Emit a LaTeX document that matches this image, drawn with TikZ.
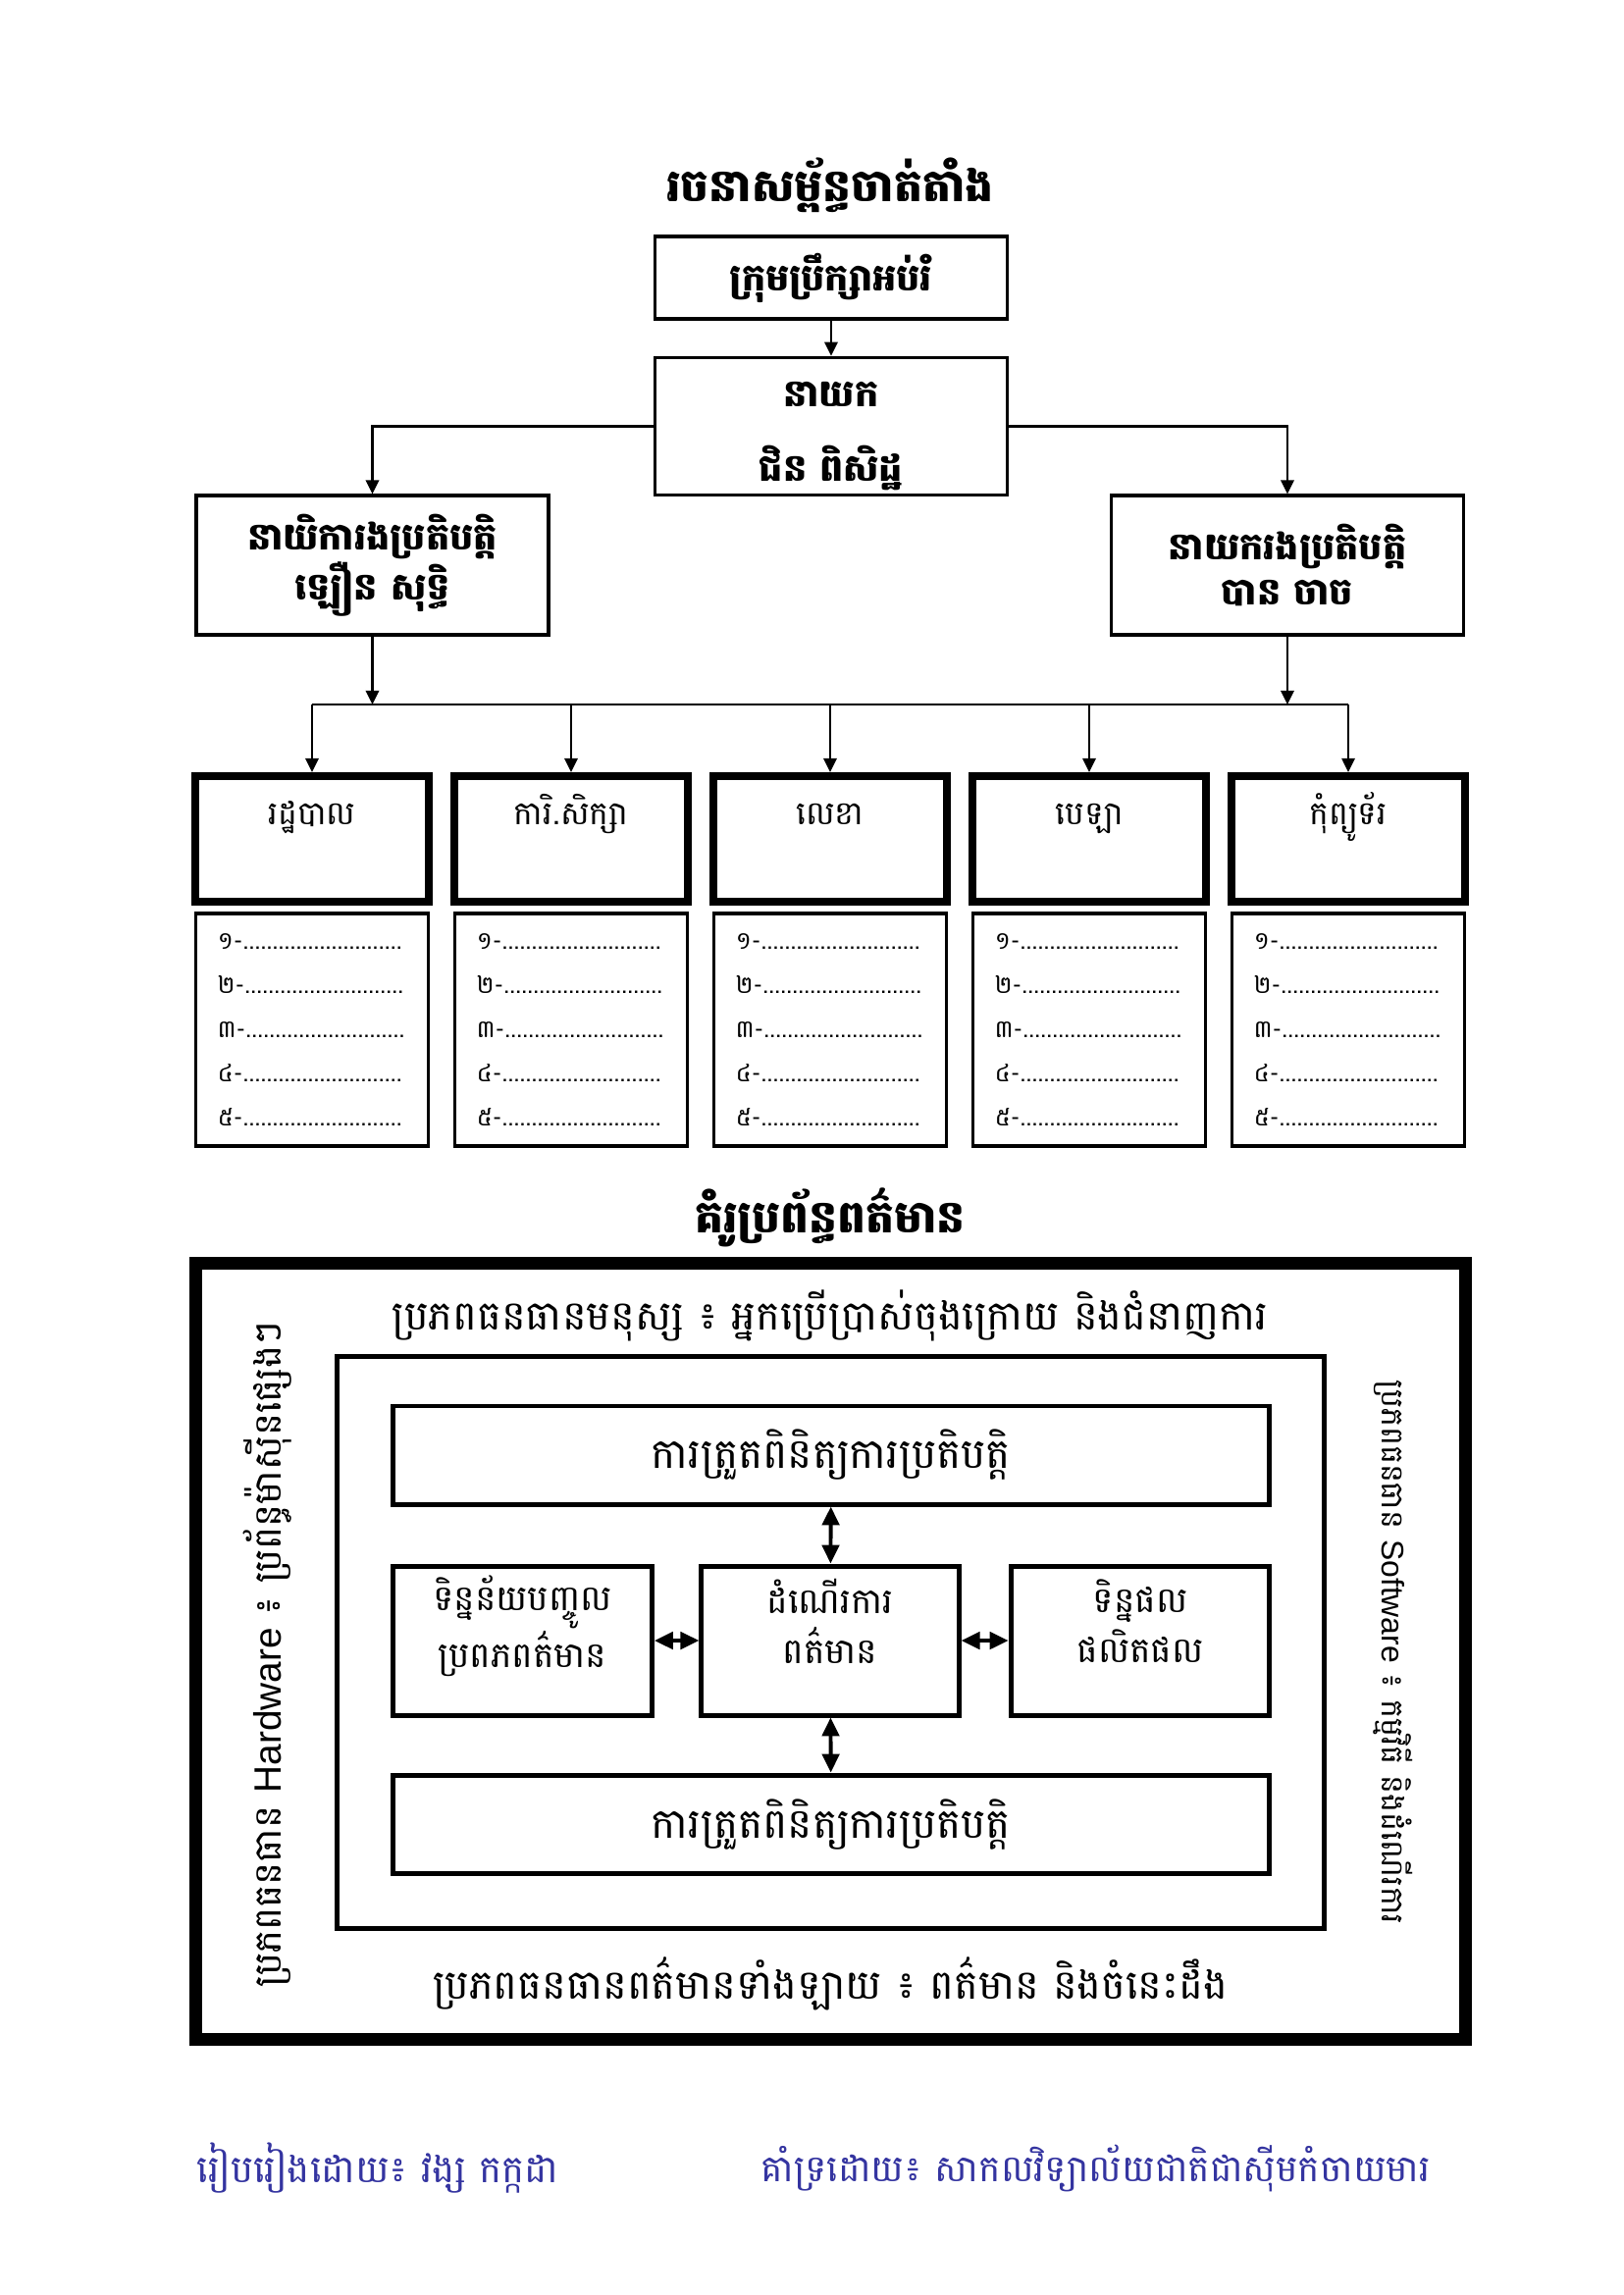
\documentclass[tikz,border=0pt]{standalone}
\usepackage{fontspec}
\usetikzlibrary{arrows.meta}
\newfontfamily\khmer[Script=Khmer]{Battambang}
\newfontfamily\latin{Liberation Sans}
\definecolor{footblue}{RGB}{52,52,160}
\newcommand{\dotrow}{...........................}
\begin{document}
\begin{tikzpicture}[x=0.126965mm,y=-0.126965mm,
  heading/.style={font=\khmer\bfseries\fontsize{16.5}{19}\selectfont},
  orgbox/.style={draw, line width=1.2pt, minimum width=45.6mm, align=center, font=\khmer\bfseries\fontsize{13.8}{16.6}\selectfont},
  unitbox/.style={draw, line width=2.8pt, minimum width=30.3mm, minimum height=16.3mm, text height=3mm, text depth=6.6mm, font=\khmer\fontsize{12}{14}\selectfont},
  listbox/.style={draw, line width=1.4pt, minimum width=30.1mm, minimum height=30.1mm, text width=24.5mm, align=left, font=\khmer\fontsize{9}{16.2}\selectfont},
  sysbox/.style={draw, line width=1.8pt, align=center, font=\khmer\fontsize{13}{18.4}\selectfont},
  link/.style={line width=0.8pt, -{Triangle[length=1.8mm,width=1.7mm]}},
  both/.style={line width=1.4pt, {Triangle[length=2.4mm,width=2.2mm]}-{Triangle[length=2.4mm,width=2.2mm]}},
  side/.style={font=\khmer\fontsize{15}{18}\selectfont},
  foot/.style={font=\khmer\fontsize{14}{16}\selectfont, text=footblue, inner xsep=0pt}]
\useasboundingbox (0,0) rectangle (1654,2339);

\node[heading] (title) at (846,189) {រចនាសម្ព័ន្ធចាត់តាំង};
\node[orgbox, minimum height=10.7mm] (council) at (847,283) {ក្រុមប្រឹក្សាអប់រំ};
\node[orgbox, minimum height=17.8mm, inner ysep=0pt, text height=15.5mm, font=\khmer\bfseries\fontsize{13.8}{27.7}\selectfont] (director) at (847,434.5) {នាយក\\ជិន ពិសិដ្ឋ};
\node[orgbox, minimum height=18mm] (deputyL) at (379.5,576) {នាយិការងប្រតិបត្តិ\\ឡឿន សុទ្ធិ};
\node[orgbox, minimum height=18mm] (deputyR) at (1312,576) {នាយករងប្រតិបត្តិ\\បាន ចាច};
\coordinate (bus) at (846,718);

\draw[link] (council) -- (director);
\draw[link] (director.west) -| (deputyL.north);
\draw[link] (director.east) -| (deputyR.north);
\draw[link] (deputyL.south) -- (deputyL.south |- bus);
\draw[link] (deputyR.south) -- (deputyR.south |- bus);

\foreach \n/\x/\t in {1/318/រដ្ឋបាល, 2/582/ការិ.សិក្សា, 3/846/លេខា, 4/1110/បេឡា, 5/1374/កុំព្យូទ័រ} {
  \node[unitbox] (unit\n) at (\x,855) {\t};
  \node[listbox] (list\n) at (\x,1049.5) {១-\dotrow\\២-\dotrow\\៣-\dotrow\\៤-\dotrow\\៥-\dotrow};
  \draw[link] (unit\n.north |- bus) -- (unit\n);
}
\draw[line width=0.8pt] (unit1.north |- bus) -- (unit5.north |- bus);

\node[heading] (systitle) at (846,1241) {គំរូប្រព័ន្ធពត៌មាន};
\node[draw, line width=4.7pt, minimum width=164.3mm, minimum height=100.4mm] (outer) at (846.5,1683) {};
\node[draw, line width=1.8pt, minimum width=127.7mm, minimum height=74mm] (inner) at (846.5,1674) {};

\node[side] (human) at (846,1341) {ប្រភពធនធានមនុស្ស ៖ អ្នកប្រើប្រាស់ចុងក្រោយ និងជំនាញការ};
\node[side] (info) at (846,2022) {ប្រភពធនធានពត៌មានទាំងឡាយ ៖ ពត៌មាន និងចំនេះដឹង};
\node[side, font=\khmer\fontsize{14}{16}\selectfont, rotate=90] (hardware) at (273,1686) {ប្រភពធនធាន {\latin Hardware} ៖ ប្រព័ន្ធម៉ាស៊ីនផ្សេងៗ};
\node[side, font=\khmer\fontsize{11.5}{14}\selectfont, rotate=-90] (software) at (1420,1684) {ប្រភពធនធាន {\latin Software} ៖ កម្មវិធី និងដំណើរការ};

\node[sysbox, font=\khmer\fontsize{15.3}{18}\selectfont, minimum width=113.3mm, minimum height=12.7mm] (controlT) at (847,1483) {ការត្រួតពិនិត្យការប្រតិបត្តិ};
\node[sysbox, minimum width=33.5mm, minimum height=19.3mm, text depth=5mm] (input) at (532.5,1672) {ទិន្នន័យបញ្ចូល\\ប្រពភពត៌មាន};
\node[sysbox, minimum width=33.3mm, minimum height=19.3mm, text depth=5mm] (process) at (846,1672) {ដំណើរការ\\ពត៌មាន};
\node[sysbox, minimum width=33.5mm, minimum height=19.3mm, text depth=5mm] (output) at (1162,1672) {ទិន្នផល\\ផលិតផល};
\node[sysbox, font=\khmer\fontsize{15.3}{18}\selectfont, minimum width=113.3mm, minimum height=12.7mm] (controlB) at (847,1859) {ការត្រួតពិនិត្យការប្រតិបត្តិ};

\draw[both] (controlT) -- (process);
\draw[both] (process) -- (controlB);
\draw[both] (input) -- (process);
\draw[both] (process) -- (output);

\node[foot, anchor=west] (author) at (200,2210) {រៀបរៀងដោយ៖ វង្ស កក្កដា};
\node[foot, font=\khmer\fontsize{13.6}{16}\selectfont, anchor=west] (sponsor) at (775,2210) {គាំទ្រដោយ៖ សាកលវិទ្យាល័យជាតិជាស៊ីមកំចាយមារ};
\end{tikzpicture}
\end{document}
